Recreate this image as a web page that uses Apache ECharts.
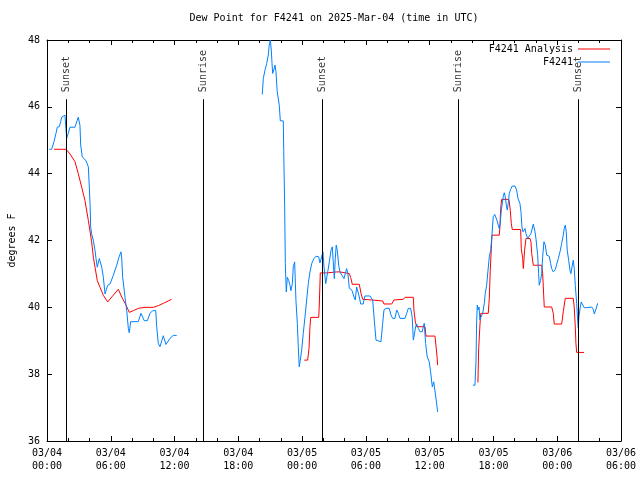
<!DOCTYPE html>
<html><head><meta charset="utf-8">
<script src="https://cdn.jsdelivr.net/npm/echarts@6/dist/echarts.min.js"></script>
<style>html,body{margin:0;padding:0;background:#fff}#c{width:640px;height:480px}</style>
</head><body><div id="c"></div>
<script>
// Hours since 2025-03-04 00:00 UTC, dew point (F)
const obsSeg1 = [[0.22,44.73],[0.44,44.73],[0.66,44.96],[0.85,45.21],[0.97,45.39],[1.16,45.41],[1.29,45.56],[1.38,45.69],[1.48,45.72],[1.69,45.75],[1.79,45.72],[1.85,45.06],[2.00,45.21],[2.16,45.39],[2.63,45.39],[2.85,45.60],[2.94,45.69],[3.10,45.45],[3.17,44.86],[3.32,44.50],[3.67,44.39],[3.89,44.20],[3.98,43.60],[4.05,43.10],[4.11,42.40],[4.20,42.20],[4.36,42.00],[4.52,41.70],[4.61,41.46],[4.73,41.20],[4.92,41.46],[5.15,41.20],[5.30,40.90],[5.46,40.40],[5.71,40.66],[5.93,40.70],[6.24,40.96],[6.56,41.26],[6.77,41.50],[6.96,41.66],[7.03,41.47],[7.12,40.90],[7.34,40.30],[7.50,39.90],[7.65,39.37],[7.74,39.24],[7.87,39.57],[8.59,39.57],[8.84,39.82],[8.97,39.87],[9.15,39.60],[9.44,39.60],[9.69,39.82],[9.94,39.90],[10.23,39.90],[10.32,39.42],[10.47,38.92],[10.63,38.82],[10.94,39.15],[11.19,38.89],[11.57,39.07],[11.88,39.16],[12.20,39.16]];
const obsSeg2 = [[20.25,46.37],[20.35,46.85],[20.51,47.10],[20.67,47.30],[20.82,47.55],[20.91,47.85],[21.01,48.00],[21.10,47.70],[21.17,47.30],[21.23,47.00],[21.33,47.10],[21.45,47.25],[21.54,47.05],[21.66,46.45],[21.85,46.05],[21.95,45.58],[22.23,45.58],[22.27,44.70],[22.36,43.00],[22.42,41.31],[22.51,40.46],[22.61,40.90],[22.74,40.80],[22.86,40.66],[22.95,40.50],[23.08,40.71],[23.17,41.21],[23.30,41.36],[23.42,40.20],[23.55,39.52],[23.64,38.82],[23.73,38.22],[23.83,38.42],[23.96,38.72],[24.11,39.22],[24.27,39.71],[24.43,40.22],[24.58,40.71],[24.74,41.06],[24.90,41.31],[25.12,41.46],[25.30,41.53],[25.56,41.51],[25.68,41.33],[25.84,41.51],[25.96,41.66],[26.06,41.21],[26.22,40.71],[26.41,41.06],[26.56,41.36],[26.72,41.71],[26.84,41.81],[26.93,41.36],[27.03,40.86],[27.12,41.46],[27.21,41.86],[27.31,41.71],[27.44,41.26],[27.56,41.06],[27.72,41.11],[27.94,40.86],[28.06,41.01],[28.19,41.16],[28.31,41.01],[28.44,40.57],[28.69,40.51],[28.88,40.31],[29.00,40.22],[29.13,40.61],[29.26,40.66],[29.38,40.31],[29.51,40.10],[29.75,40.10],[29.91,40.34],[30.38,40.34],[30.64,40.22],[30.79,39.62],[30.95,39.02],[31.42,38.97],[31.58,39.52],[31.70,39.92],[31.89,39.97],[32.20,39.97],[32.36,39.77],[32.52,39.67],[32.74,39.67],[32.90,39.92],[33.05,39.82],[33.21,39.67],[33.68,39.67],[33.84,39.82],[33.99,39.97],[34.21,39.97],[34.36,39.71],[34.46,39.02],[34.55,39.17],[34.68,39.42],[34.78,39.50],[34.93,39.37],[35.09,39.27],[35.30,39.27],[35.40,39.42],[35.49,39.52],[35.62,38.92],[35.77,38.52],[35.96,38.37],[36.09,38.07],[36.25,37.62],[36.38,37.77],[36.53,37.82],[36.62,37.22],[36.75,36.87]];
const obsSeg3 = [[40.07,37.67],[40.26,37.67],[40.36,38.40],[40.42,39.57],[40.48,40.07],[40.57,39.92],[40.64,40.01],[40.73,39.62],[40.83,39.71],[40.99,39.82],[41.14,40.12],[41.23,40.42],[41.36,40.66],[41.49,41.11],[41.61,41.51],[41.74,41.71],[41.86,42.16],[41.98,42.71],[42.12,42.78],[42.24,42.81],[42.33,42.61],[42.45,42.46],[42.55,42.36],[42.64,42.51],[42.74,42.91],[42.92,43.31],[43.02,43.43],[43.11,43.31],[43.21,43.06],[43.30,42.91],[43.39,43.11],[43.49,43.41],[43.62,43.53],[43.77,43.63],[44.02,43.63],[44.18,43.51],[44.31,43.26],[44.49,43.11],[44.59,42.86],[44.68,42.41],[44.78,42.26],[44.87,42.31],[44.97,42.36],[45.06,42.21],[45.22,42.06],[45.37,42.01],[45.53,42.21],[45.75,42.49],[45.91,42.26],[46.00,42.06],[46.16,41.56],[46.25,41.01],[46.31,40.66],[46.44,40.81],[46.54,41.01],[46.63,41.51],[46.75,41.96],[46.88,41.86],[47.01,41.56],[47.25,41.53],[47.38,41.31],[47.48,41.16],[47.63,41.06],[47.82,41.13],[47.95,41.29],[48.10,41.46],[48.26,41.66],[48.42,41.91],[48.57,42.16],[48.66,42.36],[48.76,42.46],[48.85,42.26],[48.94,41.71],[49.08,41.41],[49.20,41.11],[49.29,41.01],[49.39,41.21],[49.51,41.41],[49.60,41.16],[49.70,40.66],[49.83,40.12],[49.92,39.62],[49.98,39.37],[50.04,39.71],[50.17,40.01],[50.26,40.16],[50.36,40.12],[50.54,39.99],[50.77,39.99],[51.24,40.01],[51.39,39.94],[51.49,39.80],[51.62,39.92],[51.80,40.12]];
const analysisSeg1 = [[0.66,44.73],[1.79,44.73],[2.16,44.59],[2.63,44.36],[2.94,44.00],[3.26,43.60],[3.57,43.20],[3.89,42.60],[4.20,41.96],[4.36,41.50],[4.52,41.20],[4.73,40.80],[4.99,40.60],[5.30,40.36],[5.71,40.16],[6.09,40.31],[6.71,40.54],[7.03,40.31],[7.43,40.07],[7.74,39.85],[8.12,39.90],[8.59,39.97],[9.22,40.00],[10.00,40.00],[10.47,40.05],[10.94,40.12],[11.41,40.19],[11.73,40.24]];
const analysisSeg2 = [[24.20,38.42],[24.52,38.42],[24.65,38.77],[24.74,39.42],[24.81,39.70],[25.56,39.70],[25.61,40.01],[25.71,41.03],[26.31,41.03],[27.25,41.06],[27.56,41.06],[27.72,41.01],[28.44,41.01],[28.57,40.89],[28.72,40.69],[29.38,40.69],[29.54,40.42],[29.70,40.24],[30.55,40.22],[30.70,40.19],[31.58,40.19],[31.70,40.10],[32.43,40.10],[32.64,40.22],[32.74,40.24],[33.52,40.24],[33.68,40.30],[34.46,40.30],[34.52,39.92],[34.65,39.57],[34.78,39.42],[35.56,39.42],[35.65,39.14],[36.50,39.14],[36.59,38.87],[36.71,38.47],[36.75,38.27]];
const analysisSeg3 = [[40.54,37.75],[40.61,38.77],[40.73,39.47],[40.80,39.82],[41.51,39.82],[41.61,40.27],[41.70,41.11],[41.80,41.76],[41.86,42.16],[42.55,42.16],[42.61,42.41],[42.68,42.96],[42.77,43.23],[43.46,43.23],[43.58,42.91],[43.68,42.51],[43.77,42.33],[44.56,42.33],[44.62,41.76],[44.75,41.46],[44.81,41.16],[44.87,41.41],[44.93,41.71],[45.06,42.06],[45.44,42.06],[45.53,41.96],[45.60,41.61],[45.75,41.26],[46.54,41.26],[46.63,41.01],[46.69,40.61],[46.78,40.01],[47.48,40.01],[47.63,39.82],[47.72,39.50],[48.42,39.50],[48.57,39.87],[48.76,40.27],[49.51,40.27],[49.60,40.01],[49.70,39.42],[49.76,38.92],[49.83,38.65],[50.52,38.65]];
const sunEventHours = [1.85, 14.70, 25.90, 38.69, 49.98];
const sunEventNames = ['Sunset', 'Sunrise', 'Sunset', 'Sunrise', 'Sunset'];
const xTickLabels = ['03/04\n00:00','03/04\n06:00','03/04\n12:00','03/04\n18:00','03/05\n00:00','03/05\n06:00','03/05\n12:00','03/05\n18:00','03/06\n00:00','03/06\n06:00'];
const xMinHours = 0, xMaxHours = 54, xStepHours = 6;
const yMin = 36, yMax = 48, yStep = 2;
const sunLineTop = 46.23;
const seriesNames = ['F4241 Analysis', 'F4241'];

const FONT = 'DejaVu Sans Mono';
const RED = '#ff0000', BLUE = '#0080ff';
const chart = echarts.init(document.getElementById('c'), null, {renderer: 'canvas'});

function xAxisCfg(pos, showLabels) {
  return {
    type: 'value', position: pos, min: xMinHours, max: xMaxHours, interval: xStepHours,
    axisLine: {show: true, onZero: false, lineStyle: {color: '#000', width: 1}},
    axisTick: {show: true, inside: true, length: 5, lineStyle: {color: '#000'}},
    minorTick: {show: true, splitNumber: 3, length: 3, lineStyle: {color: '#000'}},
    splitLine: {show: false}, minorSplitLine: {show: false},
    axisLabel: {show: showLabels, margin: 6, fontFamily: FONT, fontSize: 10, lineHeight: 13, color: '#000',
      formatter: v => xTickLabels[Math.round(v / xStepHours)] || ''},
  };
}
function yAxisCfg(pos, showLabels) {
  return {
    type: 'value', position: pos, min: yMin, max: yMax, interval: yStep,
    name: showLabels ? 'degrees F' : '', nameLocation: 'middle', nameRotate: 90, nameGap: 30,
    nameTextStyle: {fontFamily: FONT, fontSize: 10, color: '#000'},
    axisLine: {show: true, onZero: false, lineStyle: {color: '#000', width: 1}},
    axisTick: {show: true, inside: true, length: 5, lineStyle: {color: '#000'}},
    splitLine: {show: false},
    axisLabel: {show: showLabels, margin: 7, fontFamily: FONT, fontSize: 10, color: '#000'},
  };
}
function lineSeries(name, data, color) {
  return {name, type: 'line', data, xAxisIndex: 0, yAxisIndex: 0, symbol: 'none', showSymbol: false,
    lineStyle: {color, width: 1}, itemStyle: {color}, animation: false, z: 3};
}

chart.setOption({
  animation: false,
  backgroundColor: '#fff',
  title: {text: 'Dew Point for F4241 on 2025-Mar-04 (time in UTC)', left: 334, top: 13, padding: 0, textAlign: 'center',
    textStyle: {fontFamily: FONT, fontSize: 10, fontWeight: 'normal', color: '#000'}},
  grid: {left: 47, right: 19, top: 40, bottom: 39, containLabel: false, outerBoundsMode: 'none'},
  legend: {orient: 'vertical', right: 30, top: 43, padding: 0, align: 'right', itemGap: 1,
    itemWidth: 32, itemHeight: 1, icon: 'rect', data: seriesNames,
    textStyle: {fontFamily: FONT, fontSize: 10, lineHeight: 12, color: '#000'}},
  xAxis: [xAxisCfg('bottom', true), xAxisCfg('top', false)],
  yAxis: [yAxisCfg('left', true), yAxisCfg('right', false)],
  series: [
    lineSeries(seriesNames[0], analysisSeg1, RED),
    lineSeries(seriesNames[0], analysisSeg2, RED),
    lineSeries(seriesNames[0], analysisSeg3, RED),
    lineSeries(seriesNames[1], obsSeg1, BLUE),
    lineSeries(seriesNames[1], obsSeg2, BLUE),
    lineSeries(seriesNames[1], obsSeg3, BLUE),
    {
      type: 'scatter', xAxisIndex: 0, yAxisIndex: 0, symbolSize: 0, silent: true, z: 2,
      data: sunEventHours.map((h, i) => ({value: [h, sunLineTop], name: sunEventNames[i]})),
      label: {show: true, formatter: '{b}', position: 'top', distance: 7, rotate: 90, align: 'left', verticalAlign: 'middle',
        fontFamily: FONT, fontSize: 10, color: '#000'},
      markLine: {silent: true, symbol: ['none', 'none'], animation: false,
        lineStyle: {color: '#000', width: 1, type: 'solid'}, label: {show: false},
        data: sunEventHours.map(h => [{coord: [h, yMin]}, {coord: [h, sunLineTop]}])}
    }
  ]
});
</script></body></html>
